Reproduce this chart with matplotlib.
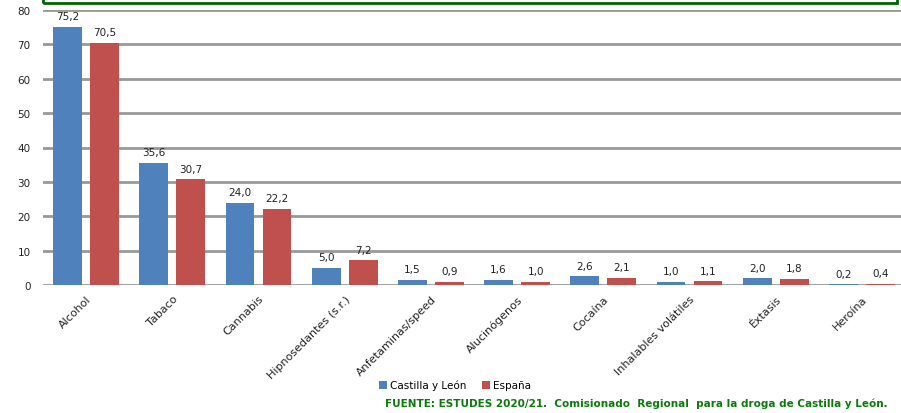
import numpy as np
import matplotlib.pyplot as plt
from matplotlib.patches import Rectangle

# data
categorias = ['Alcohol', 'Tabaco', 'Cannabis', 'Hipnosedantes (s.r.)', 'Anfetaminas/speed',
              'Alucinógenos', 'Cocaína', 'Inhalables volátiles', 'Éxtasis', 'Heroína']
castilla = [75.2, 35.6, 24.0, 5.0, 1.5, 1.6, 2.6, 1.0, 2.0, 0.2]
espana = [70.5, 30.7, 22.2, 7.2, 0.9, 1.0, 2.1, 1.1, 1.8, 0.4]

azul = '#4F81BD'
rojo = '#C0504D'

plt.rcParams['font.family'] = ['DejaVu Sans']

fig = plt.figure(figsize=(9.01, 4.14), dpi=100)
# plot area runs a bit past the right edge, as in the original
ax = fig.add_axes([43/901, 1-286/414, 862/901, 275/414])

x = np.arange(len(categorias))
w = 0.335
off = 0.215
b1 = ax.bar(x - off, castilla, w, color=azul, label='Castilla y León', zorder=3)
b2 = ax.bar(x + off, espana, w, color=rojo, label='España', zorder=3)

for bars, vals in ((b1, castilla), (b2, espana)):
    for b, v in zip(bars, vals):
        ax.text(b.get_x() + b.get_width()/2, v + 1.6, f'{v:.1f}'.replace('.', ','),
                ha='center', va='bottom', fontsize=7.5, color='#222222')

ax.set_xlim(-0.5, len(categorias) - 0.5)
ax.set_ylim(0, 80)
ax.set_yticks(range(0, 81, 10))
ax.yaxis.grid(True, color='#999999', linewidth=2, zorder=0)
ax.set_axisbelow(True)
for s in ax.spines.values():
    s.set_visible(False)
ax.tick_params(axis='both', length=0, labelsize=7.5, colors='#222222')
ax.tick_params(axis='y', pad=9)
ax.set_xticks(x)
ax.set_xticklabels(categorias, rotation=45, ha='right', rotation_mode='anchor', fontsize=8)
ax.tick_params(axis='x', pad=6)

fig.legend(loc='center', bbox_to_anchor=(455/901, 1-386/414), ncol=2, frameon=False,
           fontsize=7.5, handlelength=0.8, handleheight=0.8, handletextpad=0.3,
           columnspacing=1.5)

fig.text(888/901, 1-404/414, 'FUENTE: ESTUDES 2020/21.  Comisionado  Regional  para la droga de Castilla y León.',
         ha='right', va='center', fontsize=7.5, fontweight='bold', color='#0A7A0A')

fig.add_artist(Rectangle((43/901, 1-4/414), 854/901, 0.1, transform=fig.transFigure,
                         fill=False, edgecolor='#006400', linewidth=2))

fig.savefig('out.png', dpi=100)
